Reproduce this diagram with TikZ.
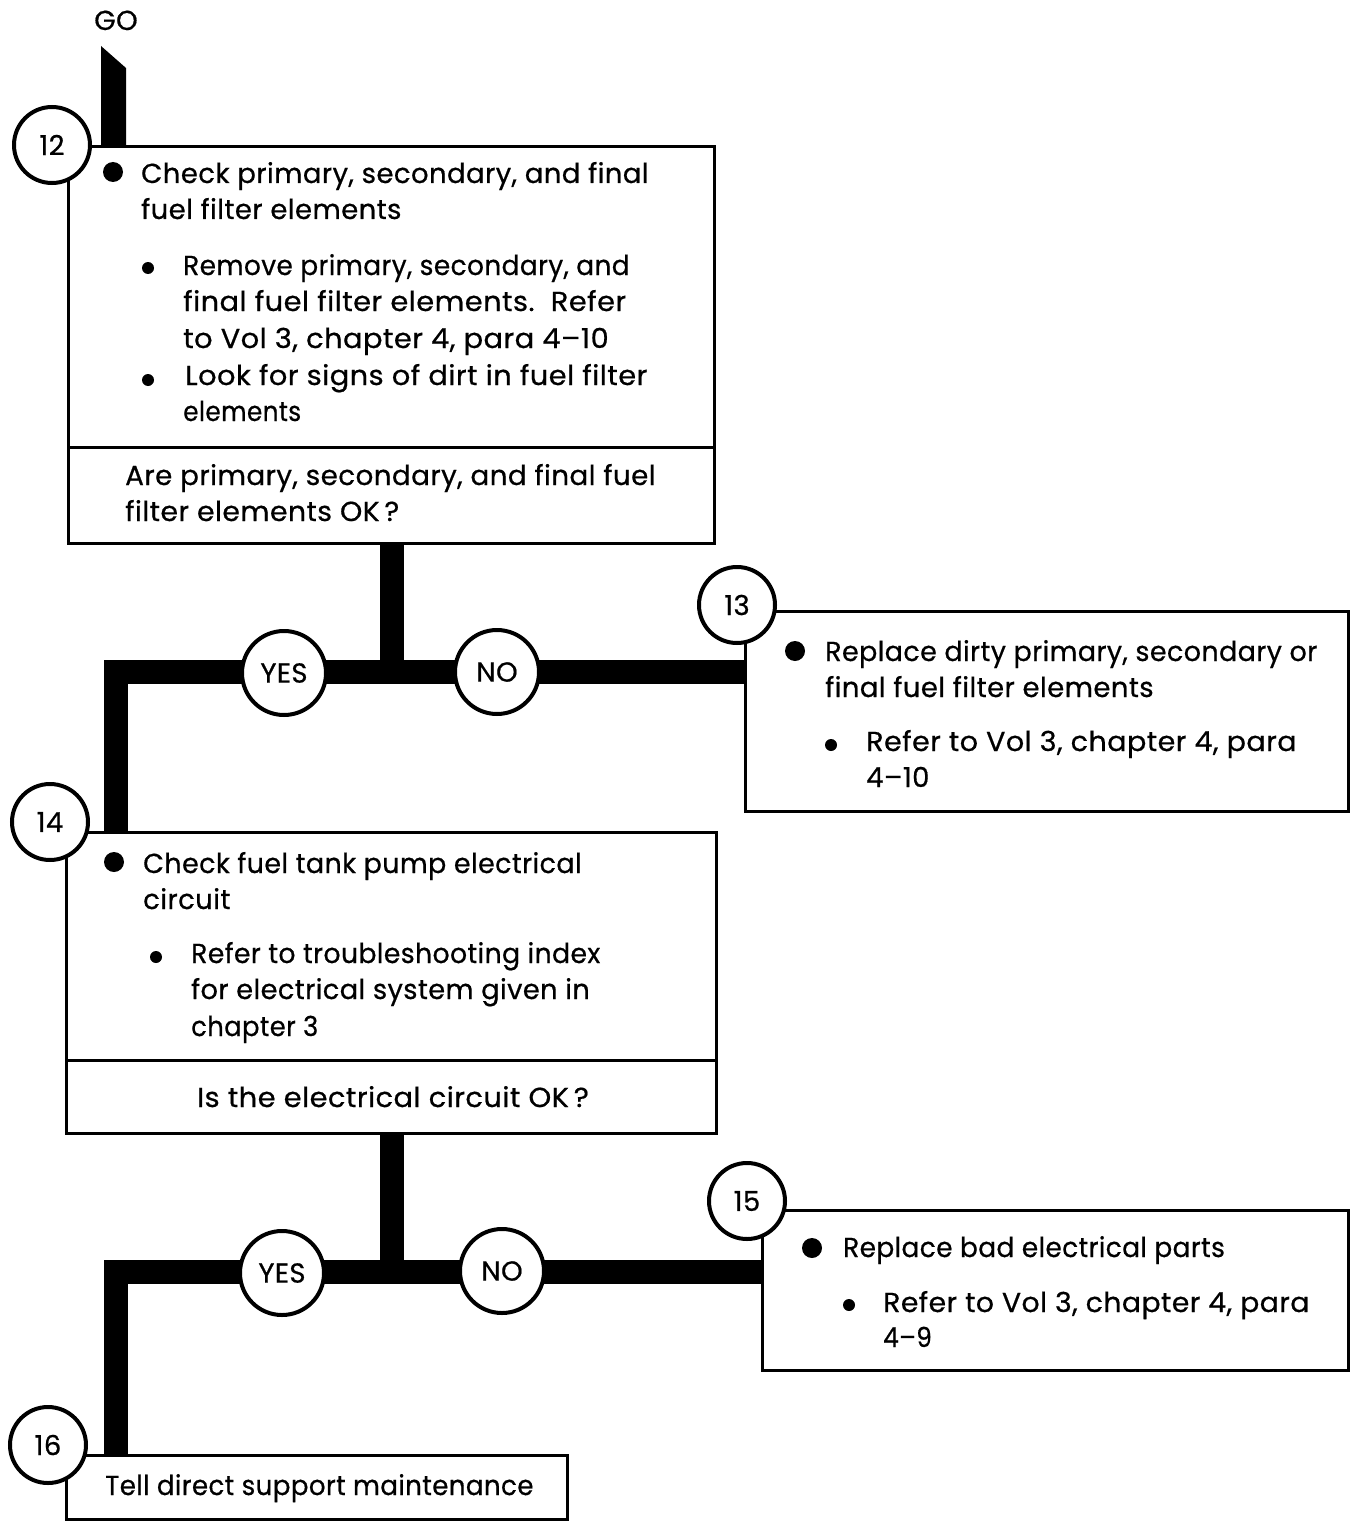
\documentclass[tikz,border=0pt]{standalone}
\usepackage{graphicx}
\usepackage{fontspec}
\setmainfont{Poppins}[LetterSpace=1.5, FakeBold=0.6]
\newcommand{\fs}{\fontsize{27.5}{36}\selectfont}
\newcommand{\sx}[2]{\scalebox{#1}[1]{#2}}
\begin{document}
\begin{tikzpicture}[x=1pt,y=-1pt,
 box/.style={draw, line width=3pt, inner sep=0, fill=white},
 num/.style={circle, draw, line width=4pt, fill=white, minimum size=76pt, inner sep=0, font=\fs},
 yn/.style={circle, draw, line width=4pt, fill=white, minimum size=84pt, inner sep=0, font=\fs},
 bar/.style={line width=24pt},
 txt/.style={anchor=base west, inner sep=0, font=\fs},
 big/.style={circle, fill, inner sep=0, minimum size=20pt},
 small/.style={circle, fill, inner sep=0, minimum size=12pt}]
\useasboundingbox (0,0) rectangle (1350,1522);
% GO
\node[font=\fs, inner sep=0, anchor=base] (go) at (116,30) {GO};
\fill (101,46) -- (126,68) -- (126,149) -- (101,149) -- cycle;
% boxes
\node[box, minimum width=646, minimum height=300] (b12) at (391,297) {};
\node[box, minimum width=646, minimum height=96] (b12q) at (391,495) {};
\node[box, minimum width=603, minimum height=200] (b13) at (1046.5,711) {};
\node[box, minimum width=650, minimum height=228] (b14) at (391,946) {};
\node[box, minimum width=650, minimum height=73] (b14q) at (391,1096.5) {};
\node[box, minimum width=586, minimum height=160] (b15) at (1055,1290) {};
\node[box, minimum width=501, minimum height=64] (b16) at (316.5,1487) {};
% connectors
\coordinate (j1) at (392,672);
\coordinate (c1) at (115.5,672);
\draw[bar] (b12q.south -| j1) -- (j1);
\draw[bar] (b13.west |- j1) -- (c1) -- (c1 |- b14.north);
\coordinate (j2) at (392,1272);
\coordinate (c2) at (115.5,1272);
\draw[bar] (b14q.south -| j2) -- (j2);
\draw[bar] (b15.west |- j2) -- (c2) -- (c2 |- b16.north);
% circles
\node[yn] (yes1) at (284,673) {YES};
\node[yn] (no1) at (497,672) {NO};
\node[yn] (yes2) at (282,1273) {YES};
\node[yn] (no2) at (502,1271) {NO};
\node[num] (n12) at (52,145) {12};
\node[num] (n13) at (737,605) {13};
\node[num] (n14) at (50,822) {14};
\node[num] (n15) at (747,1201) {15};
\node[num] (n16) at (48,1445) {16};
% box 12 text
\node[big] (d12) at (113,172) {};
\node[txt] (t12a) at (141,183) {Check primary, secondary, and final};
\node[txt] (t12b) at (141,219) {fuel filter elements};
\node[small] (s12a) at (148,268) {};
\node[txt] (t12c) at (183,275) {\sx{0.96}{Remove primary, secondary, and}};
\node[txt] (t12d) at (183,311) {\sx{1.05}{final fuel filter elements.\ \ Refer}};
\node[txt] (t12e) at (183,348) {\sx{1.05}{to Vol 3, chapter 4, para 4--10}};
\node[small] (s12b) at (148,380) {};
\node[txt] (t12f) at (185,385) {\sx{1.05}{Look for signs of dirt in fuel filter}};
\node[txt] (t12g) at (183,421) {\sx{0.9}{elements}};
\node[txt] (q12a) at (125,485) {\sx{1.01}{Are primary, secondary, and final fuel}};
\node[txt] (q12b) at (125,521) {\sx{1.03}{filter elements OK\,?}};
% box 13 text
\node[big] (d13) at (795,651) {};
\node[txt] (t13a) at (825,661) {\sx{0.98}{Replace dirty primary, secondary or}};
\node[txt] (t13b) at (825,697) {final fuel filter elements};
\node[small] (s13) at (831,745) {};
\node[txt] (t13c) at (866,751) {\sx{1.04}{Refer to Vol 3, chapter 4, para}};
\node[txt] (t13d) at (866,787) {4--10};
% box 14 text
\node[big] (d14) at (114,862) {};
\node[txt] (t14a) at (143,873) {\sx{0.98}{Check fuel tank pump electrical}};
\node[txt] (t14b) at (143,909) {circuit};
\node[small] (s14) at (156,957) {};
\node[txt] (t14c) at (191,963) {\sx{0.97}{Refer to troubleshooting index}};
\node[txt] (t14d) at (191,999) {\sx{0.99}{for electrical system given in}};
\node[txt] (t14e) at (191,1036) {\sx{0.94}{chapter 3}};
\node[font=\fs, inner sep=0, anchor=base] (q14) at (393,1107) {\sx{1.05}{Is the electrical circuit OK\,?}};
% box 15 text
\node[big] (d15) at (812,1248) {};
\node[txt] (t15a) at (843,1257) {\sx{0.96}{Replace bad electrical parts}};
\node[small] (s15) at (849,1305) {};
\node[txt] (t15b) at (883,1312) {\sx{1.03}{Refer to Vol 3, chapter 4, para}};
\node[txt] (t15c) at (883,1347) {\sx{0.9}{4--9}};
% box 16 text
\node[txt] (t16) at (105,1495) {\sx{0.95}{Tell direct support maintenance}};
\end{tikzpicture}
\end{document}
